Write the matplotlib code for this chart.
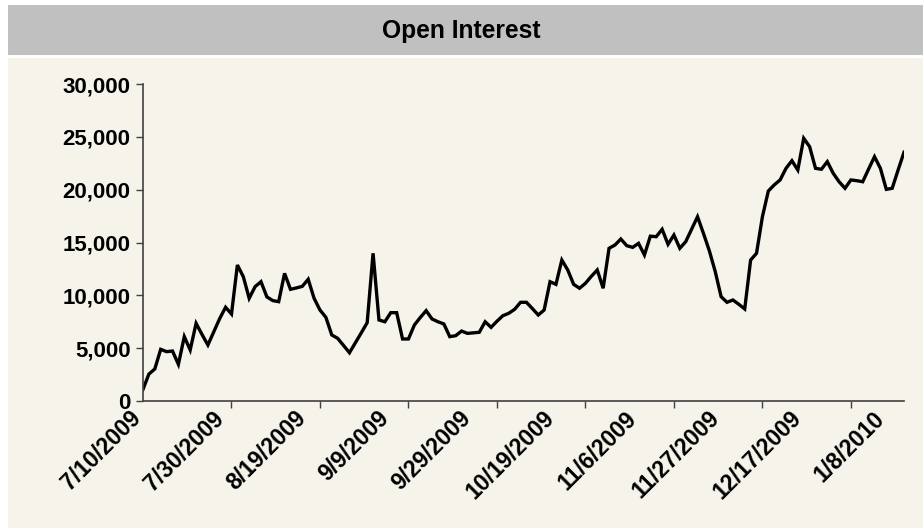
import matplotlib.pyplot as plt
import matplotlib.patches as patches
from matplotlib.ticker import FuncFormatter
from matplotlib.transforms import ScaledTranslation

# open interest, one value per trading day (7/10/2009 .. 1/15/2010)
open_interest = [
    1100, 2550, 3030, 4890, 4670, 4730, 3470, 6090, 4830, 7350,
    6300, 5300, 6550, 7800, 8870, 8230, 12870, 11770, 9720, 10820,
    11290, 9850, 9500, 9400, 12080, 10570, 10700, 10850, 11520, 9720,
    8610, 7920, 6250, 5930, 5250, 4570, 5500, 6450, 7410, 13980,
    7670, 7500, 8360, 8360, 5870, 5870, 7190, 7900, 8550, 7760,
    7500, 7290, 6090, 6180, 6620, 6400, 6450, 6500, 7500, 6970,
    7550, 8070, 8300, 8680, 9340, 9340, 8750, 8140, 8610, 11290,
    11040, 13340, 12400, 11040, 10670, 11140, 11800, 12400, 10670, 14450,
    14760, 15330, 14700, 14540, 14920, 13820, 15600, 15550, 16250, 14830,
    15710, 14450, 15080, 16250, 17440, 15870, 14220, 12250, 9870, 9340,
    9560, 9150, 8710, 13340, 13980, 17440, 19870, 20450, 20920, 22020,
    22740, 21860, 24860, 24070, 22020, 21930, 22650, 21550, 20750, 20130,
    20920, 20850, 20750, 21950, 23120, 22020, 20030, 20130, 21860, 23540,
]
date_labels = ["7/10/2009", "7/30/2009", "8/19/2009", "9/9/2009", "9/29/2009",
               "10/19/2009", "11/6/2009", "11/27/2009", "12/17/2009", "1/8/2010"]
label_step = 14
tick_step = 15

W, H = 923, 528
fig = plt.figure(figsize=(W / 100, H / 100), dpi=100, facecolor="white")

# title band and chart background
fig.patches.append(patches.Rectangle((8 / W, 1 - 55 / H), 1, 50 / H, transform=fig.transFigure,
                                     facecolor="#c0c0c0", edgecolor="none", zorder=-10))
fig.patches.append(patches.Rectangle((8 / W, 0), 1, 1 - 58 / H, transform=fig.transFigure,
                                     facecolor="#f6f3eb", edgecolor="none", zorder=-10))
fig.text(0.5, 1 - 31 / H, "Open Interest", ha="center", va="center",
         fontsize=17.7, fontweight="bold", family="Liberation Sans")

ax = fig.add_axes([143 / W, 1 - 401 / H, (904 - 143) / W, (401 - 84) / H])
ax.set_facecolor("none")
ax.set_zorder(5)

x = list(range(len(open_interest)))
ax.plot(x, open_interest, color="black", linewidth=2.4, solid_joinstyle="miter")

ax.set_xlim(0, len(open_interest) - 1)
ax.set_ylim(0, 30000)
ax.set_yticks(range(0, 30001, 5000))
ax.yaxis.set_major_formatter(FuncFormatter(lambda v, p: f"{int(v):,}"))

ax.set_xticks([i * label_step for i in range(len(date_labels))])
ax.set_xticklabels(date_labels, rotation=45, ha="right", va="center", rotation_mode="anchor")
ax.set_xticks(range(0, len(open_interest), tick_step), minor=True)
ax.tick_params(axis="x", which="major", length=0, pad=10)
ax.tick_params(axis="x", which="minor", length=5, width=1, color="#404040", direction="out")
ax.tick_params(axis="y", length=5, width=1, color="#404040", direction="out", pad=4)

for lab in ax.get_xticklabels() + ax.get_yticklabels():
    lab.set_fontweight("bold")
    lab.set_fontsize(16)
    lab.set_family("Liberation Sans")

# nudge the slanted date labels left so they end at their category
shift = ScaledTranslation(-4 / 72, 0, fig.dpi_scale_trans)
for lab in ax.get_xticklabels():
    lab.set_fontsize(16.5)
    lab.set_transform(lab.get_transform() + shift)

for s in ["top", "right"]:
    ax.spines[s].set_visible(False)
for s in ["left", "bottom"]:
    ax.spines[s].set_color("#404040")
    ax.spines[s].set_linewidth(1.2)

fig.savefig("out.png", dpi=100)
